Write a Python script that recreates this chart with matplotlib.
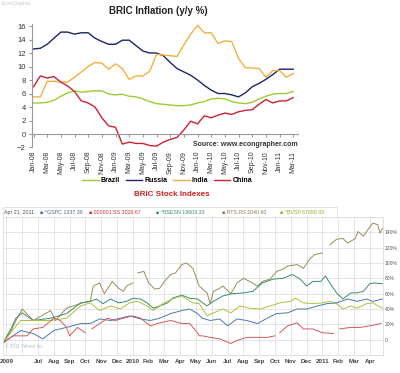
import numpy as np
import matplotlib
matplotlib.use('Agg')
import matplotlib.pyplot as plt
from matplotlib.patches import Rectangle

plt.rcParams['font.family'] = ['Liberation Sans', 'DejaVu Sans']

nan = np.nan

# ---- BRIC inflation, monthly Jan-08 .. Mar-11 (y/y %)
brazil = [4.6, 4.6, 4.7, 5.0, 5.6, 6.1, 6.4, 6.2, 6.3, 6.4, 6.4, 5.9,
          5.8, 5.9, 5.6, 5.5, 5.2, 4.8, 4.5, 4.4, 4.3, 4.2, 4.2, 4.3,
          4.6, 4.8, 5.2, 5.3, 5.2, 4.8, 4.6, 4.5, 4.7, 5.2, 5.6, 5.9,
          6.0, 6.0, 6.3]
russia = [12.6, 12.7, 13.3, 14.2, 15.1, 15.1, 14.8, 15.0, 15.0, 14.2, 13.7, 13.3,
          13.3, 13.9, 13.9, 13.1, 12.3, 12.0, 12.0, 11.6, 10.6, 9.7, 9.2, 8.7,
          8.0, 7.2, 6.5, 6.0, 6.0, 5.8, 5.5, 6.1, 7.0, 7.5, 8.1, 8.8,
          9.6, 9.6, 9.6]
india = [5.5, 5.5, 7.8, 7.8, 7.7, 7.7, 8.4, 9.2, 10.0, 10.6, 10.5, 9.6,
         10.4, 9.7, 8.1, 8.6, 8.6, 9.3, 11.8, 11.7, 11.6, 11.5, 13.2, 14.8,
         16.1, 15.0, 15.0, 13.4, 13.8, 13.7, 11.2, 9.8, 9.8, 9.7, 8.4, 9.4,
         9.4, 8.4, 9.0]
china = [7.0, 8.6, 8.3, 8.5, 7.7, 7.1, 6.3, 4.9, 4.6, 4.0, 2.4, 1.2,
         1.0, -1.5, -1.2, -1.4, -1.4, -1.7, -1.8, -1.2, -0.8, -0.5, 0.6, 1.9,
         1.5, 2.7, 2.4, 2.8, 3.1, 2.9, 3.3, 3.5, 3.6, 4.4, 5.1, 4.6,
         4.9, 4.9, 5.4]
infl_ticks = ['Jan-08', 'Mar-08', 'May-08', 'Jul-08', 'Sep-08', 'Nov-08',
              'Jan-09', 'Mar-09', 'May-09', 'Jul-09', 'Sep-09', 'Nov-09',
              'Jan-10', 'Mar-10', 'May-10', 'Jul-10', 'Sep-10', 'Nov-10',
              'Jan-11', 'Mar-11']

# ---- stock indexes, % change; x = months since Jan 2009
rts_x = [3.8, 4.3, 4.6, 5.0, 5.7, 6.8, 7.1, 7.8, 8.8, 9.3, 9.5, 9.9, 10.2, 10.7,
         11.1, 11.4, 11.6, 12.0, 12.15, 12.3, 12.7, 13.0, 13.4, 13.7, 14.0, 14.4,
         14.7, 15.1, 15.4, 15.8, 16.1, 16.2, 16.7, 16.9, 17.1, 17.5, 17.7, 18.2,
         18.6, 19.0, 19.4, 19.9, 20.2, 20.7, 21.1, 21.5, 21.8, 22.4, 22.8, 23.2,
         23.5, 24.0, 24.2, 24.5, 24.9, 25.3, 25.6, 26.1, 26.25, 26.6, 26.9, 27.2,
         27.5, 27.65, 27.8]
rts_y = [-4, 12, 25, 40, 25, 38, 25, 41, 48, 50, 70, 74, 60, 76,
         67, 63, 70, 74, nan, 87, 89, 74, 66, 67, 76, 85,
         87, 98, 100, 93, 76, 70, 61, 47, 63, 67, 70, 60,
         74, 80, 76, 70, 76, 79, 89, 92, 96, 98, 93, 105,
         111, 113, nan, 124, 131, 132, 126, 132, 141, 135, 144, 152,
         150, 139, 145]

bsesn_x = [3.8, 4.3, 4.6, 5.0, 5.7, 6.8, 7.8, 8.7, 9.3, 9.7, 10.1, 10.6, 11.1,
           11.6, 12.0, 12.5, 12.9, 13.3, 13.7, 14.2, 14.5, 15.1, 15.6, 16.1,
           16.3, 16.7, 17.1, 17.7, 18.3, 19.0, 19.6, 20.2, 20.9, 21.5, 22.1,
           22.6, 23.0, 23.4, 23.9, 24.2, 24.5, 24.9, 25.3, 25.8, 26.2, 26.6,
           27.0, 27.3, 27.8]
bsesn_y = [-4, 15, 28, 35, 25, 28, 34, 48, 50, 53, 47, 53, 48,
           50, 54, 53, 48, 41, 44, 48, 54, 58, 54, 53,
           50, 44, 50, 57, 60, 61, 63, 74, 79, 80, 85,
           79, 70, 76, 76, 83, 73, 61, 53, 61, 61, 63,
           73, 74, 73]

bvsp_x = [3.8, 4.3, 4.9, 5.7, 6.8, 7.8, 8.7, 9.3, 9.9, 10.6, 11.2, 11.8, 12.3,
          12.9, 13.3, 13.9, 14.5, 15.1, 15.8, 16.2, 16.7, 17.1, 17.7, 18.2,
          18.8, 19.4, 20.1, 20.7, 21.3, 22.0, 22.3, 22.8, 23.4, 24.0, 24.5,
          24.9, 25.3, 25.8, 26.2, 26.8, 27.2, 27.8]
bvsp_y = [-4, 10, 25, 25, 25, 28, 44, 48, 38, 44, 40, 48, 50,
          44, 38, 47, 53, 57, 48, 47, 31, 35, 40, 35,
          44, 41, 40, 44, 48, 50, 54, 48, 47, 48, 50,
          47, 40, 44, 41, 47, 48, 41]

gspc_x = [3.8, 4.9, 5.7, 6.3, 7.0, 7.8, 8.7, 9.3, 9.9, 10.6, 11.2, 11.8, 12.5,
          13.1, 13.7, 14.4, 15.1, 15.6, 16.1, 16.4, 16.9, 17.5, 18.0, 18.6,
          19.2, 19.9, 20.5, 21.1, 21.8, 22.4, 23.0, 23.7, 24.3, 24.9, 25.6,
          26.2, 26.8, 27.2, 27.8]
gspc_y = [-4, 12, 8, 1, 12, 16, 21, 21, 27, 25, 28, 31, 27,
          25, 28, 34, 38, 40, 34, 28, 25, 27, 18, 27,
          25, 21, 28, 34, 35, 40, 40, 44, 47, 48, 53,
          50, 53, 50, 53]

sse_x = [3.8, 4.4, 5.3, 5.7, 6.3, 7.0, 7.4, 7.8, 8.0, 8.5, 9.0, 9.2, 9.4, 9.9,
         10.4, 10.9, 11.4, 12.0, 12.5, 13.1, 13.7, 14.4, 15.1, 15.6, 16.1,
         16.2, 16.4, 16.9, 17.5, 18.2, 18.6, 19.2, 19.9, 20.5, 21.0, 21.15,
         21.3, 21.8, 22.4, 22.8, 23.4, 24.0, 24.7, 24.85, 25.1, 25.8, 26.4,
         27.0, 27.7]
sse_y = [-4, 5, 5, 14, 16, 28, 25, 16, 5, 16, 9, nan, 14, 21,
         28, 25, 28, 31, 28, 18, 22, 25, 21, 21, 9,
         5, 5, 3, 1, -5, -1, 3, 3, 3, 5, nan,
         9, 18, 22, 14, 14, 9, 8, nan, 14, 16, 16,
         18, 21]

stock_months = ['2009', '', 'Jul', 'Aug', 'Sep', 'Oct', 'Nov', 'Dec',
                '2010', 'Feb', 'Mar', 'Apr', 'May', 'Jun', 'Jul', 'Aug',
                'Sep', 'Oct', 'Nov', 'Dec', '2011', 'Feb', 'Mar', 'Apr']
index_names = ['^GSPC', '000001.SS', '^BSESN', 'RTS.RS', '^BVSP']
index_last = ['1337.38', '3026.67', '19603.33', '2040.60', '67658.00']

W, H = 400, 373
fig = plt.figure(figsize=(W / 100, H / 100), dpi=100)


def box(x0, y0, x1, y1):
    return fig.add_axes([x0 / W, 1 - y1 / H, (x1 - x0) / W, (y1 - y0) / H])


def fx(px):
    return px / W


def fy(py):
    return 1 - py / H


# ================= top chart =================
fig.text(fx(2), fy(4), 'EconGrapher', fontsize=3.5, color='#c8c8c8', va='center')
fig.text(fx(158), fy(11), 'BRIC Inflation (y/y %)', fontsize=7, weight='bold',
         color='#222222', ha='center', va='center')

ax = box(32, 24, 298, 147.5)
x = np.arange(len(brazil))
ax.plot(x, brazil, color='#9acd32', lw=1.0, label='Brazil')
ax.plot(x, russia, color='#1c2566', lw=1.0, label='Russia')
ax.plot(x, india, color='#f0b040', lw=1.0, label='India')
ax.plot(x, china, color='#cc2233', lw=1.0, label='China')
ax.set_xlim(-0.22, 38.7)
ax.set_ylim(-2, 16.3)
ax.set_yticks(range(-2, 17, 2))
ax.spines[['top', 'right']].set_visible(False)
ax.spines['bottom'].set_position(('data', 0))
for s in ('left', 'bottom'):
    ax.spines[s].set_color('#999999')
    ax.spines[s].set_linewidth(0.8)
ax.set_xticks(x[::2])
ax.tick_params(axis='x', labelbottom=False, length=2.5, color='#999999')
ax.tick_params(axis='y', labelsize=5.5, length=2.5, color='#999999',
               labelcolor='#333333', pad=2)
for xi, lab in zip(x[::2], infl_ticks):
    ax.text(xi, -2.5, lab, rotation=90, ha='center', va='top', fontsize=5,
            color='#333333')

fig.legend(loc='center', bbox_to_anchor=(fx(167), fy(181)), ncol=4,
           frameon=False, prop={'weight': 'bold', 'size': 5},
           handlelength=2.4, columnspacing=0.8, handletextpad=0.3)
fig.text(fx(298), fy(145), 'Source: www.econgrapher.com', ha='right',
         va='center', fontsize=5, weight='bold', color='#333333')

# ================= bottom chart =================
fig.text(fx(172), fy(194), 'BRIC Stock Indexes', color='#cc2222',
         weight='bold', fontsize=5.8, ha='center', va='center')

bx = box(3, 217, 383, 355)
bx.plot(rts_x, rts_y, color='#9c8a5a', lw=0.7)
bx.plot(bsesn_x, bsesn_y, color='#3c8c6c', lw=0.7)
bx.plot(bvsp_x, bvsp_y, color='#a6c43c', lw=0.7)
bx.plot(gspc_x, gspc_y, color='#4a78b0', lw=0.7)
bx.plot(sse_x, sse_y, color='#d85858', lw=0.7)
bx.set_xlim(3.78, 27.84)
bx.set_ylim(-20, 158)
bx.set_xticks(range(4, 28))
bx.set_xticklabels(stock_months, fontsize=4.5, weight='bold', color='#444444')
yt = list(range(-20, 161, 20))
bx.set_yticks(yt)
bx.set_yticklabels(['' if v in (-20, 160) else ('0' if v == 0 else f'{v}%')
                    for v in yt], fontsize=3.6, color='#555555')
bx.yaxis.tick_right()
bx.tick_params(axis='x', length=0, pad=3)
bx.tick_params(axis='y', length=0, pad=1.5)
bx.grid(True, color='#e0e0e0', lw=0.6)
bx.set_axisbelow(True)
for s in bx.spines.values():
    s.set_color('#dddddd')
    s.set_linewidth(0.6)
bx.text(0.006, 0.05, '\u00a9 2011 Yahoo! Inc.', transform=bx.transAxes,
        fontsize=3.3, color='#aabbcc')

# legend band of the quote chart
fig.patches.append(Rectangle((fx(3), fy(217)), fx(334), 10 / H,
                             transform=fig.transFigure, facecolor='white',
                             edgecolor='#dddddd', lw=0.6))
fig.text(fx(3.5), fy(212), 'Apr 21, 2011:', fontsize=3.8, color='#555555',
         va='center')
leg_x = [40, 89, 156, 222, 280]
leg_col = ['#4a6a9a', '#cc3333', '#3a8a6a', '#8a7a50', '#99aa22']
for lx, name, last, c in zip(leg_x, index_names, index_last, leg_col):
    fig.text(fx(lx), fy(212), '\u25a0 ' + name + ' ' + last, fontsize=3.8,
             color=c, va='center')

fig.savefig('out.png', dpi=100)
